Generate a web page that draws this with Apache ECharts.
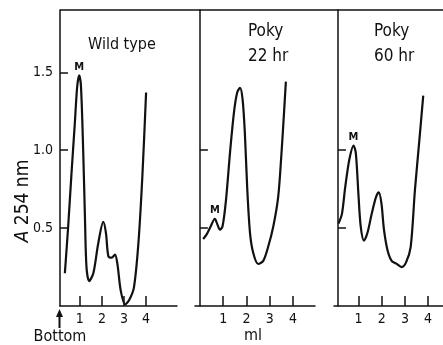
<!DOCTYPE html>
<html>
<head>
<meta charset="utf-8">
<script src="https://cdn.jsdelivr.net/npm/echarts@6/dist/echarts.min.js"></script>
<style>
  html, body { margin: 0; padding: 0; background: #fff; }
  #chart { width: 443px; height: 345px; }
</style>
</head>
<body>
<div id="chart"></div>
<script>
// ml from bottom of gradient / absorbance at 254 nm
const wildX = [0.32, 0.47, 0.62, 0.77, 0.88, 0.97, 1.05, 1.15, 1.23, 1.30, 1.42, 1.61, 1.83, 2.06, 2.18, 2.29, 2.44, 2.59, 2.70, 2.85, 3.05, 3.24, 3.45, 3.65, 3.83, 4.0];
const wildA = [0.21, 0.51, 0.85, 1.17, 1.41, 1.48, 1.41, 1.0, 0.57, 0.25, 0.16, 0.21, 0.40, 0.54, 0.47, 0.32, 0.31, 0.33, 0.27, 0.10, 0.01, 0.04, 0.12, 0.40, 0.83, 1.37];

const poky22X = [0.14, 0.29, 0.46, 0.64, 0.76, 0.86, 0.97, 1.12, 1.29, 1.46, 1.60, 1.72, 1.83, 1.93, 2.03, 2.15, 2.29, 2.50, 2.72, 2.93, 3.15, 3.36, 3.51, 3.61, 3.69];
const poky22A = [0.43, 0.46, 0.51, 0.56, 0.52, 0.49, 0.51, 0.68, 0.98, 1.24, 1.37, 1.40, 1.33, 1.11, 0.76, 0.47, 0.34, 0.27, 0.29, 0.38, 0.51, 0.70, 1.0, 1.24, 1.44];

const poky60X = [0.14, 0.29, 0.43, 0.61, 0.79, 0.89, 1.0, 1.10, 1.24, 1.39, 1.57, 1.76, 1.88, 1.99, 2.10, 2.25, 2.43, 2.65, 2.86, 3.05, 3.25, 3.43, 3.62, 3.79];
const poky60A = [0.53, 0.59, 0.76, 0.94, 1.03, 0.98, 0.72, 0.51, 0.42, 0.47, 0.59, 0.70, 0.73, 0.66, 0.49, 0.36, 0.29, 0.27, 0.25, 0.28, 0.38, 0.74, 1.06, 1.35];

// index of the "M" (mitochondrial) peak in each curve
const mPeak = [5, 3, 4];

const xTicks = [1, 2, 3, 4];
const yTicksWild = [0.5, 1.0, 1.5];
const yTicksPoky = [0.5, 1.0];

const titles = ['Wild type', 'Poky\n22 hr', 'Poky\n60 hr'];

const FONT = "'Liberation Sans Narrow', 'DejaVu Sans Condensed', 'Liberation Sans', sans-serif";
const INK = '#111';

const panels = [
  { x: wildX, y: wildA, left: 60, width: 117, min: 0.1, max: 5.4, yOff: 0, yTicks: yTicksWild, labels: true },
  { x: poky22X, y: poky22A, left: 195, width: 120, min: -0.21, max: 4.94, yOff: -4, yTicks: yTicksPoky, labels: false },
  { x: poky60X, y: poky60A, left: 334, width: 109, min: -0.05, max: 4.64, yOff: -4, yTicks: yTicksPoky, labels: false }
];

let chart = echarts.init(document.getElementById('chart'), null, { renderer: 'canvas' });

let grid = [], xAxis = [], yAxis = [], series = [];
panels.forEach((p, i) => {
  grid.push({ left: p.left, width: p.width, top: 10, bottom: 39 });
  xAxis.push({
    type: 'value', gridIndex: i, min: p.min, max: p.max,
    axisLine: { lineStyle: { color: INK, width: 1.5 } },
    axisTick: { inside: true, length: 10, customValues: xTicks, lineStyle: { color: INK, width: 1.5 } },
    axisLabel: { customValues: xTicks, margin: 6, color: INK, fontSize: 14, fontFamily: FONT },
    splitLine: { show: false }
  });
  yAxis.push({
    type: 'value', gridIndex: i, min: 0, max: 1.9, offset: p.yOff,
    axisLine: { show: true, lineStyle: { color: INK, width: 1.5 } },
    axisTick: { show: true, inside: true, length: 8, customValues: p.yTicks, lineStyle: { color: INK, width: 1.5 } },
    axisLabel: {
      show: p.labels, customValues: p.yTicks, margin: 7, color: INK,
      fontSize: 14, fontFamily: FONT, formatter: v => v.toFixed(1)
    },
    splitLine: { show: false }
  });
  const data = p.x.map((v, k) => [v, p.y[k]]);
  const pk = mPeak[i];
  series.push({
    type: 'line', xAxisIndex: i, yAxisIndex: i,
    data: data, smooth: 0.3, showSymbol: false, silent: true,
    lineStyle: { color: INK, width: 2.2 },
    markPoint: {
      symbol: 'circle', symbolSize: 0, silent: true,
      label: { show: true, position: 'top', distance: 3, formatter: 'M', color: INK, fontSize: 11, fontWeight: 'bold', fontFamily: FONT },
      data: [{ coord: [p.x[pk], p.y[pk]] }]
    }
  });
});

let option = {
  animation: false,
  backgroundColor: '#fff',
  title: [
    { text: titles[0], left: 83, top: 32, textStyle: { fontSize: 16, fontWeight: 'normal', color: INK, fontFamily: FONT } },
    { text: titles[1], left: 243, top: 14, textStyle: { fontSize: 17, lineHeight: 25, fontWeight: 'normal', color: INK, fontFamily: FONT } },
    { text: titles[2], left: 369, top: 14, textStyle: { fontSize: 17, lineHeight: 25, fontWeight: 'normal', color: INK, fontFamily: FONT } }
  ],
  grid: grid,
  xAxis: xAxis,
  yAxis: yAxis,
  series: series,
  graphic: [
    // top frame line
    { type: 'line', shape: { x1: 60, y1: 10, x2: 443, y2: 10 }, style: { stroke: INK, lineWidth: 1.5 } },
    // y axis title
    {
      type: 'text', x: 23, y: 201, rotation: Math.PI / 2,
      style: {
        text: '{i|A} 254 nm', align: 'center', verticalAlign: 'middle',
        fill: INK, fontSize: 19, fontFamily: FONT,
        rich: { i: { fontStyle: 'italic', fontSize: 19, fontFamily: FONT } }
      }
    },
    // "Bottom" arrow
    {
      type: 'polygon', z: 10,
      shape: { points: [[59.5, 309], [56, 317], [58.5, 317], [58.5, 328], [60.5, 328], [60.5, 317], [63, 317]] },
      style: { fill: INK }
    },
    { type: 'text', x: 60, y: 337, style: { text: 'Bottom', align: 'center', verticalAlign: 'middle', fill: INK, fontSize: 16, fontFamily: FONT } },
    // x axis title
    { type: 'text', x: 253, y: 336, style: { text: 'ml', align: 'center', verticalAlign: 'middle', fill: INK, fontSize: 16, fontFamily: FONT } }
  ]
};

chart.setOption(option);
window.addEventListener('resize', () => { chart.resize(); });
</script>
</body>
</html>
